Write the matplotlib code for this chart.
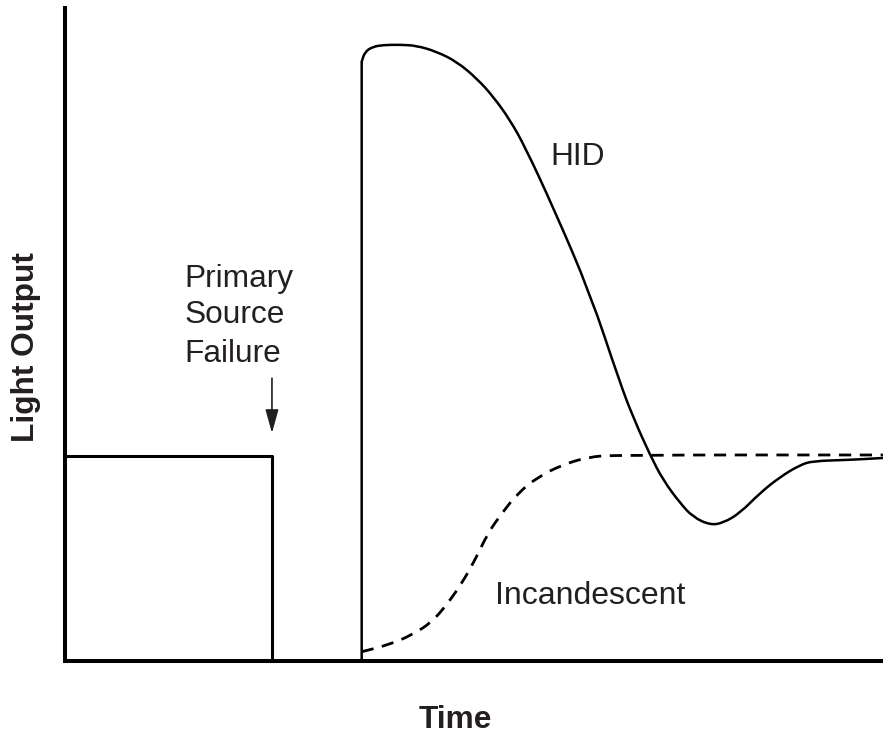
import matplotlib
matplotlib.use("Agg")
import matplotlib.pyplot as plt
from matplotlib.path import Path
from matplotlib.patches import PathPatch

plt.rcParams['font.family'] = ['Liberation Sans', 'DejaVu Sans']

# time / light output in arbitrary units (0-100)
primary_t = [0, 25.3, 25.3]
primary_y = [31.4, 31.4, 0]

hid_t = [36.27, 36.27, 36.67, 37.65, 38.88, 40.95, 43.00, 45.44, 47.89, 50.33,
         52.36, 54.40, 56.23, 59.66, 64.18, 67.85, 69.44, 71.52, 73.11, 75.18,
         76.77, 78.85, 80.44, 82.52, 84.96, 87.41, 89.85, 91.44, 95.60, 100]
hid_y = [0, 91.78, 93.31, 94.07, 94.33, 94.38, 94.23, 93.31, 91.78, 89.23,
         86.42, 82.85, 78.76, 69.53, 56.36, 42.57, 37.37, 31.55, 27.72, 24.20,
         22.05, 20.83, 21.13, 22.66, 25.73, 28.18, 30.02, 30.63, 30.78, 31.09]

inc_t = [36.27, 39.49, 42.42, 44.87, 46.82, 48.53, 50.12, 51.71, 53.42, 55.38,
         57.82, 60.76, 63.94, 67.24, 100]
inc_y = [1.42, 2.45, 3.98, 5.97, 8.88, 11.94, 15.47, 19.60, 22.66, 25.73,
         28.18, 30.02, 31.24, 31.55, 31.55]

failure_t = 25.3
failure_lines = ["Primary", "Source", "Failure"]
failure_y = [57.27, 51.76, 45.79]

txt_col = '#231f20'


def smooth_path(xs, ys, n_straight=0):
    # quadratic bezier through midpoints, read points used as controls;
    # the first n_straight segments are kept straight
    pts = list(zip(xs, ys))
    mid = lambda a, b: ((a[0] + b[0]) / 2, (a[1] + b[1]) / 2)
    verts = [pts[0]]
    codes = [Path.MOVETO]
    for i in range(1, n_straight + 1):
        verts.append(pts[i])
        codes.append(Path.LINETO)
    k = n_straight
    verts.append(mid(pts[k], pts[k + 1]))
    codes.append(Path.LINETO)
    for i in range(k + 1, len(pts) - 1):
        verts += [pts[i], mid(pts[i], pts[i + 1])]
        codes += [Path.CURVE3, Path.CURVE3]
    verts.append(pts[-1])
    codes.append(Path.LINETO)
    return Path(verts, codes)


fig = plt.figure(figsize=(8.83, 7.34), dpi=100)
ax = fig.add_axes([65 / 883, 73 / 734, 818 / 883, 653 / 734])

ax.plot(primary_t, primary_y, color='black', lw=2.2, clip_on=False)
ax.add_patch(PathPatch(smooth_path(hid_t, hid_y, n_straight=1), fill=False,
                       ec='black', lw=1.8, clip_on=False))
ax.add_patch(PathPatch(smooth_path(inc_t, inc_y), fill=False, ec='black',
                       lw=2.0, ls=(0, (4.4, 3.1)), clip_on=False))

# arrow marking the failure
ax.annotate('', xy=(failure_t, 34.9), xytext=(failure_t, 43.3),
            arrowprops=dict(arrowstyle='-|>,head_length=0.72,head_width=0.2',
                            mutation_scale=20, lw=1.2, color=txt_col,
                            shrinkA=0, shrinkB=0))

for line, yy in zip(failure_lines, failure_y):
    ax.text(14.6, yy, line, fontsize=22.8, color=txt_col, ha='left', va='baseline')

ax.text(59.35, 75.96, "HID", fontsize=22.8, color=txt_col, ha='left', va='baseline')
ax.text(52.57, 8.73, "Incandescent", fontsize=23, color=txt_col, ha='left', va='baseline')

ax.set_xlim(0, 100)
ax.set_ylim(0, 100)
ax.set_xticks([])
ax.set_yticks([])
for s in ['top', 'right']:
    ax.spines[s].set_visible(False)
for s in ['left', 'bottom']:
    ax.spines[s].set_linewidth(2.9)
    ax.spines[s].set_color('black')

fig.text(455 / 883, 6 / 734, "Time", fontsize=22.8, fontweight='bold',
         color=txt_col, ha='center', va='baseline')
fig.text(26 / 883, 1 - 347 / 734, "Light Output", fontsize=22.8, fontweight='bold',
         color=txt_col, rotation=90, ha='center', va='center')

fig.savefig('out.png', dpi=100)
